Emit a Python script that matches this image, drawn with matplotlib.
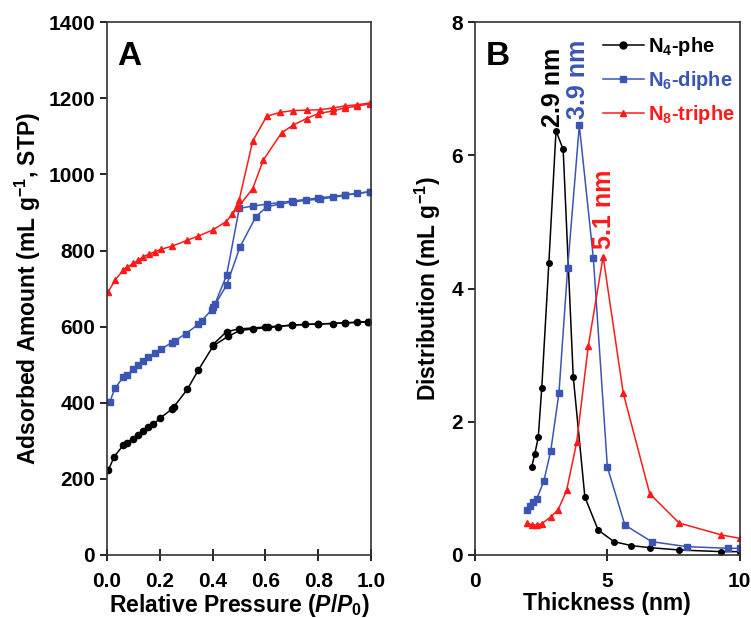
import numpy as np
import matplotlib
matplotlib.use("Agg")
import matplotlib.pyplot as plt
from matplotlib.lines import Line2D

plt.rcParams['font.family'] = ['Liberation Sans', 'DejaVu Sans']
plt.rcParams['font.weight'] = 'bold'
plt.rcParams['axes.labelweight'] = 'bold'
plt.rcParams['mathtext.fontset'] = 'custom'
plt.rcParams['mathtext.rm'] = 'Liberation Sans:bold'
plt.rcParams['mathtext.it'] = 'Liberation Sans:bold:italic'
plt.rcParams['mathtext.bf'] = 'Liberation Sans:bold'

# ---- panel A: N2 isotherms (adsorption / desorption branches)
p_ads_4 = [0.005, 0.027, 0.062, 0.074, 0.10, 0.119, 0.138, 0.156, 0.175, 0.20, 0.245, 0.254,
           0.304, 0.346, 0.403, 0.46, 0.504, 0.554, 0.611, 0.649, 0.70, 0.75, 0.80, 0.857, 0.90, 0.946, 0.99]
v_ads_4 = [223, 258, 289, 295, 306, 315, 326, 335, 343, 359, 383, 390,
           435, 486, 550, 575, 590, 594, 598, 600, 604, 606, 607, 608, 610, 611, 613]
p_des_4 = [0.99, 0.90, 0.80, 0.70, 0.60, 0.50, 0.453, 0.40]
v_des_4 = [613, 610, 607, 604, 599, 594, 587, 552]

p_ads_6 = [0.011, 0.03, 0.062, 0.077, 0.10, 0.119, 0.138, 0.156, 0.182, 0.203, 0.245, 0.258,
           0.299, 0.346, 0.358, 0.396, 0.403, 0.453, 0.504, 0.564, 0.605, 0.655, 0.706, 0.755,
           0.805, 0.857, 0.90, 0.946, 0.996]
v_ads_6 = [403, 438, 468, 474, 488, 499, 510, 519, 530, 540, 558, 563,
           582, 606, 615, 644, 651, 709, 810, 889, 915, 922, 928, 932,
           935, 940, 945, 950, 954]
p_des_6 = [0.996, 0.90, 0.80, 0.70, 0.605, 0.554, 0.501, 0.453, 0.409]
v_des_6 = [955, 946, 938, 930, 922, 917, 911, 735, 660]

p_ads_8 = [0.005, 0.03, 0.062, 0.077, 0.10, 0.119, 0.138, 0.16, 0.182, 0.203, 0.248, 0.304,
           0.346, 0.40, 0.451, 0.498, 0.552, 0.592, 0.661, 0.703, 0.756, 0.80, 0.857, 0.90,
           0.946, 0.996]
v_ads_8 = [692, 722, 749, 757, 766, 775, 784, 791, 797, 803, 812, 827,
           838, 854, 876, 915, 963, 1038, 1109, 1129, 1147, 1160, 1167, 1175,
           1179, 1186]
p_des_8 = [0.996, 0.946, 0.90, 0.857, 0.805, 0.756, 0.706, 0.655, 0.605, 0.552, 0.501, 0.475]
v_des_8 = [1188, 1183, 1180, 1175, 1170, 1169, 1168, 1163, 1153, 1088, 934, 895]

# ---- panel B: pore size distribution
t_4 = [2.14, 2.26, 2.39, 2.52, 2.79, 3.06, 3.33, 3.71, 4.15, 4.65, 5.25, 5.91, 6.6, 7.71, 9.31, 10.0]
d_4 = [1.32, 1.52, 1.77, 2.50, 4.39, 6.37, 6.09, 2.68, 0.87, 0.375, 0.20, 0.14, 0.11, 0.075, 0.05, 0.05]
t_6 = [1.98, 2.08, 2.2, 2.33, 2.6, 2.86, 3.17, 3.5, 3.94, 4.47, 5.0, 5.66, 6.67, 8.0, 9.56, 10.0]
d_6 = [0.68, 0.73, 0.79, 0.84, 1.11, 1.56, 2.43, 4.31, 6.45, 4.46, 1.32, 0.45, 0.20, 0.125, 0.10, 0.10]
t_8 = [1.98, 2.14, 2.33, 2.52, 2.86, 3.14, 3.46, 3.84, 4.28, 4.84, 5.6, 6.6, 7.71, 9.31, 10.0]
d_8 = [0.48, 0.45, 0.45, 0.47, 0.57, 0.68, 0.97, 1.69, 3.14, 4.48, 2.43, 0.92, 0.48, 0.30, 0.25]

labels = ['N$_4$-phe', 'N$_6$-diphe', 'N$_8$-triphe']
peaks = ['2.9 nm', '3.9 nm', '5.1 nm']
black, blue, red = 'black', '#3a55b4', '#ff1a1a'

fig = plt.figure(figsize=(7.51, 6.18), dpi=100)
axA = fig.add_axes([0.1425, 0.102, 0.3515, 0.862])
axB = fig.add_axes([0.6325, 0.102, 0.3525, 0.862])

lw = 1.1
axA.plot(p_ads_4, v_ads_4, color=black, marker='o', ms=4.5, lw=lw)
axA.plot(p_des_4, v_des_4, color=black, marker='o', ms=4.5, lw=lw)
axA.plot(p_ads_6, v_ads_6, color=blue, marker='s', ms=4.5, lw=lw)
axA.plot(p_des_6, v_des_6, color=blue, marker='s', ms=4.5, lw=lw)
axA.plot(p_ads_8, v_ads_8, color=red, marker='^', ms=4.5, lw=lw)
axA.plot(p_des_8, v_des_8, color=red, marker='^', ms=4.5, lw=lw)

axA.set_xlim(0, 1.0)
axA.set_ylim(0, 1400)
axA.set_xticks(np.arange(0, 1.01, 0.2))
axA.set_xticklabels(['0.0', '0.2', '0.4', '0.6', '0.8', '1.0'])
axA.set_yticks(np.arange(0, 1401, 200))
axA.set_xlabel('Relative Pressure ($\\mathit{P/P_0}$)', fontsize=16.5, labelpad=1)
axA.set_ylabel('Adsorbed Amount (mL g$^{-1}$, STP)', fontsize=16.5, labelpad=4)
axA.text(0.04, 0.965, 'A', transform=axA.transAxes, fontsize=24, fontweight='bold',
         va='top', ha='left')

axB.plot(t_4, d_4, color=black, marker='o', ms=4, lw=lw)
axB.plot(t_6, d_6, color=blue, marker='s', ms=4.5, lw=lw)
axB.plot(t_8, d_8, color=red, marker='^', ms=4.5, lw=lw)
axB.set_xlim(0, 10)
axB.set_ylim(0, 8)
axB.set_xticks([0, 5, 10])
axB.set_yticks([0, 2, 4, 6, 8])
axB.set_xlabel('Thickness (nm)', fontsize=16.5, labelpad=1)
axB.set_ylabel('Distribution (mL g$^{-1}$)', fontsize=16.5, labelpad=6)
axB.text(0.04, 0.965, 'B', transform=axB.transAxes, fontsize=24, fontweight='bold',
         va='top', ha='left')

axB.text(2.94, 6.42, peaks[0], rotation=90, color=black, fontsize=18,
         ha='center', va='bottom')
axB.text(3.89, 6.55, peaks[1], rotation=90, color=blue, fontsize=18,
         ha='center', va='bottom')
axB.text(4.87, 4.6, peaks[2], rotation=90, color=red, fontsize=18,
         ha='center', va='bottom')

handles = [Line2D([], [], color=black, marker='o', ms=5, lw=lw),
           Line2D([], [], color=blue, marker='s', ms=5, lw=lw),
           Line2D([], [], color=red, marker='^', ms=5, lw=lw)]
leg = axB.legend(handles, labels, loc='upper right', bbox_to_anchor=(1.03, 1.0),
                 frameon=False, fontsize=14.5, handlelength=2.0, handletextpad=0.2,
                 labelspacing=0.55, borderaxespad=0.25)
for txt, c in zip(leg.get_texts(), [black, blue, red]):
    txt.set_color(c)

for ax in (axA, axB):
    for s in ax.spines.values():
        s.set_linewidth(1.2)
        s.set_color('#333333')
    ax.tick_params(axis='y', direction='out', length=5, width=1.2, labelsize=15)
    ax.tick_params(axis='x', direction='inout', length=8, width=1.2, labelsize=15, pad=8)

fig.savefig('out.png', dpi=100)
